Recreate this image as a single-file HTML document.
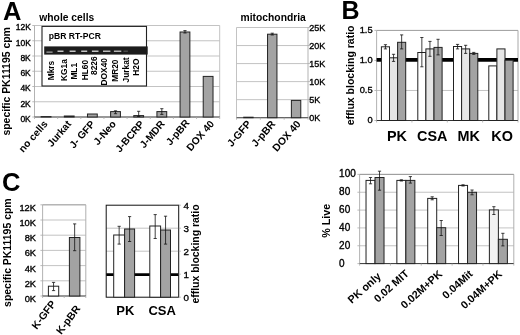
<!DOCTYPE html>
<html><head><meta charset="utf-8"><style>
html,body{margin:0;padding:0;background:#fff;width:520px;height:335px;overflow:hidden}
svg{display:block;font-family:"Liberation Sans", sans-serif;filter:blur(0.35px)}
</style></head><body>
<svg width="520" height="335" viewBox="0 0 520 335" shape-rendering="auto">
<rect x="0" y="0" width="520" height="335" fill="#fff"/>
<text x="2.90" y="19.70" font-size="25.5" font-weight="bold" text-anchor="start" fill="#000">A</text>
<text x="39.30" y="21.30" font-size="10.3" font-weight="bold" text-anchor="start" fill="#000">whole cells</text>
<text x="9.90" y="135.60" font-size="10.45" font-weight="bold" text-anchor="start" fill="#000" transform="rotate(-90 9.90 135.60)">specific PK11195 cpm</text>
<line x1="34.50" y1="25.50" x2="219.70" y2="25.50" stroke="#bcbcbc" stroke-width="0.9"/>
<line x1="34.50" y1="40.75" x2="219.70" y2="40.75" stroke="#bcbcbc" stroke-width="0.9"/>
<line x1="34.50" y1="56.00" x2="219.70" y2="56.00" stroke="#bcbcbc" stroke-width="0.9"/>
<line x1="34.50" y1="71.25" x2="219.70" y2="71.25" stroke="#bcbcbc" stroke-width="0.9"/>
<line x1="34.50" y1="86.50" x2="219.70" y2="86.50" stroke="#bcbcbc" stroke-width="0.9"/>
<line x1="34.50" y1="101.75" x2="219.70" y2="101.75" stroke="#bcbcbc" stroke-width="0.9"/>
<line x1="34.50" y1="25.50" x2="34.50" y2="117.00" stroke="#aaa" stroke-width="0.9"/>
<line x1="219.70" y1="25.50" x2="219.70" y2="117.00" stroke="#bcbcbc" stroke-width="0.9"/>
<line x1="32.30" y1="25.50" x2="34.50" y2="25.50" stroke="#aaa" stroke-width="0.8"/>
<line x1="32.30" y1="40.75" x2="34.50" y2="40.75" stroke="#aaa" stroke-width="0.8"/>
<line x1="32.30" y1="56.00" x2="34.50" y2="56.00" stroke="#aaa" stroke-width="0.8"/>
<line x1="32.30" y1="71.25" x2="34.50" y2="71.25" stroke="#aaa" stroke-width="0.8"/>
<line x1="32.30" y1="86.50" x2="34.50" y2="86.50" stroke="#aaa" stroke-width="0.8"/>
<line x1="32.30" y1="101.75" x2="34.50" y2="101.75" stroke="#aaa" stroke-width="0.8"/>
<line x1="32.30" y1="117.00" x2="34.50" y2="117.00" stroke="#aaa" stroke-width="0.8"/>
<text x="30.80" y="30.40" font-size="8.5" font-weight="normal" text-anchor="end" fill="#000" stroke="#000" stroke-width="0.35">12K</text>
<text x="30.80" y="45.65" font-size="8.5" font-weight="normal" text-anchor="end" fill="#000" stroke="#000" stroke-width="0.35">10K</text>
<text x="30.80" y="60.90" font-size="8.5" font-weight="normal" text-anchor="end" fill="#000" stroke="#000" stroke-width="0.35">8K</text>
<text x="30.80" y="76.15" font-size="8.5" font-weight="normal" text-anchor="end" fill="#000" stroke="#000" stroke-width="0.35">6K</text>
<text x="30.80" y="91.40" font-size="8.5" font-weight="normal" text-anchor="end" fill="#000" stroke="#000" stroke-width="0.35">4K</text>
<text x="30.80" y="106.65" font-size="8.5" font-weight="normal" text-anchor="end" fill="#000" stroke="#000" stroke-width="0.35">2K</text>
<text x="30.80" y="121.90" font-size="8.5" font-weight="normal" text-anchor="end" fill="#000" stroke="#000" stroke-width="0.35">0K</text>
<line x1="34.50" y1="117.00" x2="219.70" y2="117.00" stroke="#333" stroke-width="1.1"/>
<rect x="41.18" y="116.60" width="9.80" height="0.40" fill="#a3a3a3" stroke="#222" stroke-width="1.0"/>
<rect x="64.32" y="116.00" width="9.80" height="1.00" fill="#a3a3a3" stroke="#222" stroke-width="1.0"/>
<rect x="87.47" y="114.00" width="9.80" height="3.00" fill="#a3a3a3" stroke="#222" stroke-width="1.0"/>
<rect x="110.62" y="111.60" width="9.80" height="5.40" fill="#a3a3a3" stroke="#222" stroke-width="1.0"/>
<line x1="115.52" y1="110.80" x2="115.52" y2="113.70" stroke="#111" stroke-width="0.8"/>
<line x1="113.92" y1="110.80" x2="117.12" y2="110.80" stroke="#111" stroke-width="0.8"/>
<line x1="113.92" y1="113.70" x2="117.12" y2="113.70" stroke="#111" stroke-width="0.8"/>
<rect x="133.78" y="115.60" width="9.80" height="1.40" fill="#a3a3a3" stroke="#222" stroke-width="1.0"/>
<line x1="138.68" y1="111.30" x2="138.68" y2="116.50" stroke="#111" stroke-width="0.8"/>
<line x1="137.08" y1="111.30" x2="140.28" y2="111.30" stroke="#111" stroke-width="0.8"/>
<line x1="137.08" y1="116.50" x2="140.28" y2="116.50" stroke="#111" stroke-width="0.8"/>
<rect x="156.92" y="111.60" width="9.80" height="5.40" fill="#a3a3a3" stroke="#222" stroke-width="1.0"/>
<line x1="161.82" y1="108.70" x2="161.82" y2="114.40" stroke="#111" stroke-width="0.8"/>
<line x1="160.22" y1="108.70" x2="163.42" y2="108.70" stroke="#111" stroke-width="0.8"/>
<line x1="160.22" y1="114.40" x2="163.42" y2="114.40" stroke="#111" stroke-width="0.8"/>
<rect x="180.07" y="32.00" width="9.80" height="85.00" fill="#a3a3a3" stroke="#222" stroke-width="1.0"/>
<line x1="184.97" y1="30.60" x2="184.97" y2="33.00" stroke="#111" stroke-width="0.8"/>
<line x1="183.38" y1="30.60" x2="186.57" y2="30.60" stroke="#111" stroke-width="0.8"/>
<line x1="183.38" y1="33.00" x2="186.57" y2="33.00" stroke="#111" stroke-width="0.8"/>
<rect x="203.22" y="76.40" width="9.80" height="40.60" fill="#a3a3a3" stroke="#222" stroke-width="1.0"/>
<line x1="34.50" y1="117.00" x2="34.50" y2="119.00" stroke="#aaa" stroke-width="0.8"/>
<line x1="57.65" y1="117.00" x2="57.65" y2="119.00" stroke="#aaa" stroke-width="0.8"/>
<line x1="80.80" y1="117.00" x2="80.80" y2="119.00" stroke="#aaa" stroke-width="0.8"/>
<line x1="103.95" y1="117.00" x2="103.95" y2="119.00" stroke="#aaa" stroke-width="0.8"/>
<line x1="127.10" y1="117.00" x2="127.10" y2="119.00" stroke="#aaa" stroke-width="0.8"/>
<line x1="150.25" y1="117.00" x2="150.25" y2="119.00" stroke="#aaa" stroke-width="0.8"/>
<line x1="173.40" y1="117.00" x2="173.40" y2="119.00" stroke="#aaa" stroke-width="0.8"/>
<line x1="196.55" y1="117.00" x2="196.55" y2="119.00" stroke="#aaa" stroke-width="0.8"/>
<line x1="219.70" y1="117.00" x2="219.70" y2="119.00" stroke="#aaa" stroke-width="0.8"/>
<text x="48.18" y="124.30" font-size="10.2" font-weight="bold" text-anchor="end" fill="#000" transform="rotate(-49 48.18 124.30)">no cells</text>
<text x="71.82" y="124.30" font-size="10.2" font-weight="bold" text-anchor="end" fill="#000" transform="rotate(-49 71.82 124.30)">Jurkat</text>
<text x="95.47" y="124.30" font-size="10.2" font-weight="bold" text-anchor="end" fill="#000" transform="rotate(-49 95.47 124.30)">J- GFP</text>
<text x="116.62" y="124.30" font-size="10.2" font-weight="bold" text-anchor="end" fill="#000" transform="rotate(-49 116.62 124.30)">J-Neo</text>
<text x="144.78" y="124.30" font-size="10.2" font-weight="bold" text-anchor="end" fill="#000" transform="rotate(-49 144.78 124.30)">J-BCRP</text>
<text x="165.42" y="124.30" font-size="10.2" font-weight="bold" text-anchor="end" fill="#000" transform="rotate(-49 165.42 124.30)">J-MDR</text>
<text x="190.07" y="123.30" font-size="10.2" font-weight="bold" text-anchor="end" fill="#000" transform="rotate(-49 190.07 123.30)">J-pBR</text>
<text x="214.72" y="124.30" font-size="10.2" font-weight="bold" text-anchor="end" fill="#000" transform="rotate(-49 214.72 124.30)">DOX 40</text>
<rect x="42.00" y="26.40" width="104.50" height="59.60" fill="#fff" stroke="#222" stroke-width="1.1"/>
<text x="48.80" y="38.80" font-size="8.6" font-weight="bold" text-anchor="start" fill="#000">pBR RT-PCR</text>
<rect x="44.20" y="46.40" width="103.50" height="8.20" fill="#1c1c1c" stroke="none" stroke-width="1"/>
<rect x="46.40" y="51.40" width="6.20" height="1.50" fill="#8c8c8c" stroke="none" stroke-width="1"/>
<rect x="57.50" y="50.50" width="6.00" height="1.50" fill="#c4c4c4" stroke="none" stroke-width="1"/>
<rect x="69.60" y="50.50" width="6.00" height="1.50" fill="#c4c4c4" stroke="none" stroke-width="1"/>
<rect x="81.20" y="50.50" width="6.00" height="1.50" fill="#c4c4c4" stroke="none" stroke-width="1"/>
<rect x="91.90" y="50.50" width="6.60" height="1.50" fill="#c4c4c4" stroke="none" stroke-width="1"/>
<rect x="103.00" y="50.50" width="7.40" height="1.50" fill="#bcbcbc" stroke="none" stroke-width="1"/>
<rect x="113.90" y="50.50" width="7.40" height="1.50" fill="#b4b4b4" stroke="none" stroke-width="1"/>
<rect x="123.50" y="50.50" width="4.40" height="1.50" fill="#4a4a4a" stroke="none" stroke-width="1"/>
<text x="54.20" y="80.30" font-size="8.4" font-weight="bold" text-anchor="start" fill="#000" transform="rotate(-90 54.20 80.30)">Mkrs</text>
<text x="66.60" y="81.00" font-size="8.4" font-weight="bold" text-anchor="start" fill="#000" transform="rotate(-90 66.60 81.00)">KG1a</text>
<text x="77.20" y="79.60" font-size="8.4" font-weight="bold" text-anchor="start" fill="#000" transform="rotate(-90 77.20 79.60)">ML1</text>
<text x="87.60" y="80.30" font-size="8.4" font-weight="bold" text-anchor="start" fill="#000" transform="rotate(-90 87.60 80.30)">HL60</text>
<text x="96.50" y="75.00" font-size="8.4" font-weight="bold" text-anchor="start" fill="#000" transform="rotate(-90 96.50 75.00)">8226</text>
<text x="107.00" y="85.50" font-size="8.4" font-weight="bold" text-anchor="start" fill="#000" transform="rotate(-90 107.00 85.50)">DOX40</text>
<text x="118.20" y="81.80" font-size="8.4" font-weight="bold" text-anchor="start" fill="#000" transform="rotate(-90 118.20 81.80)">MR20</text>
<text x="128.60" y="82.50" font-size="8.4" font-weight="bold" text-anchor="start" fill="#000" transform="rotate(-90 128.60 82.50)">Jurkat</text>
<text x="139.10" y="75.80" font-size="8.4" font-weight="bold" text-anchor="start" fill="#000" transform="rotate(-90 139.10 75.80)">H2O</text>
<text x="240.60" y="21.00" font-size="10.3" font-weight="bold" text-anchor="start" fill="#000">mitochondria</text>
<line x1="236.50" y1="27.50" x2="308.00" y2="27.50" stroke="#bcbcbc" stroke-width="0.9"/>
<line x1="236.50" y1="45.54" x2="308.00" y2="45.54" stroke="#bcbcbc" stroke-width="0.9"/>
<line x1="236.50" y1="63.58" x2="308.00" y2="63.58" stroke="#bcbcbc" stroke-width="0.9"/>
<line x1="236.50" y1="81.62" x2="308.00" y2="81.62" stroke="#bcbcbc" stroke-width="0.9"/>
<line x1="236.50" y1="99.66" x2="308.00" y2="99.66" stroke="#bcbcbc" stroke-width="0.9"/>
<line x1="236.50" y1="27.50" x2="236.50" y2="117.70" stroke="#bcbcbc" stroke-width="0.9"/>
<line x1="308.00" y1="27.50" x2="308.00" y2="117.70" stroke="#aaa" stroke-width="0.9"/>
<line x1="308.00" y1="27.50" x2="310.20" y2="27.50" stroke="#aaa" stroke-width="0.8"/>
<line x1="308.00" y1="45.54" x2="310.20" y2="45.54" stroke="#aaa" stroke-width="0.8"/>
<line x1="308.00" y1="63.58" x2="310.20" y2="63.58" stroke="#aaa" stroke-width="0.8"/>
<line x1="308.00" y1="81.62" x2="310.20" y2="81.62" stroke="#aaa" stroke-width="0.8"/>
<line x1="308.00" y1="99.66" x2="310.20" y2="99.66" stroke="#aaa" stroke-width="0.8"/>
<line x1="308.00" y1="117.70" x2="310.20" y2="117.70" stroke="#aaa" stroke-width="0.8"/>
<text x="309.20" y="30.80" font-size="9.0" font-weight="normal" text-anchor="start" fill="#000" stroke="#000" stroke-width="0.35">25K</text>
<text x="309.20" y="48.84" font-size="9.0" font-weight="normal" text-anchor="start" fill="#000" stroke="#000" stroke-width="0.35">20K</text>
<text x="309.20" y="66.88" font-size="9.0" font-weight="normal" text-anchor="start" fill="#000" stroke="#000" stroke-width="0.35">15K</text>
<text x="309.20" y="84.92" font-size="9.0" font-weight="normal" text-anchor="start" fill="#000" stroke="#000" stroke-width="0.35">10K</text>
<text x="309.20" y="102.96" font-size="9.0" font-weight="normal" text-anchor="start" fill="#000" stroke="#000" stroke-width="0.35">5K</text>
<text x="309.20" y="121.00" font-size="9.0" font-weight="normal" text-anchor="start" fill="#000" stroke="#000" stroke-width="0.35">0K</text>
<line x1="236.50" y1="117.70" x2="308.00" y2="117.70" stroke="#333" stroke-width="1.1"/>
<rect x="243.72" y="117.20" width="9.40" height="0.50" fill="#a3a3a3" stroke="#222" stroke-width="1.0"/>
<rect x="267.55" y="34.20" width="9.40" height="83.50" fill="#a3a3a3" stroke="#222" stroke-width="1.0"/>
<line x1="272.25" y1="33.20" x2="272.25" y2="35.00" stroke="#111" stroke-width="0.8"/>
<line x1="270.65" y1="33.20" x2="273.85" y2="33.20" stroke="#111" stroke-width="0.8"/>
<line x1="270.65" y1="35.00" x2="273.85" y2="35.00" stroke="#111" stroke-width="0.8"/>
<rect x="291.38" y="100.40" width="9.40" height="17.30" fill="#a3a3a3" stroke="#222" stroke-width="1.0"/>
<line x1="236.50" y1="117.70" x2="236.50" y2="119.70" stroke="#aaa" stroke-width="0.8"/>
<line x1="260.33" y1="117.70" x2="260.33" y2="119.70" stroke="#aaa" stroke-width="0.8"/>
<line x1="284.17" y1="117.70" x2="284.17" y2="119.70" stroke="#aaa" stroke-width="0.8"/>
<line x1="308.00" y1="117.70" x2="308.00" y2="119.70" stroke="#aaa" stroke-width="0.8"/>
<text x="251.72" y="124.30" font-size="10.4" font-weight="bold" text-anchor="end" fill="#000" transform="rotate(-49 251.72 124.30)">J-GFP</text>
<text x="276.05" y="124.30" font-size="10.4" font-weight="bold" text-anchor="end" fill="#000" transform="rotate(-49 276.05 124.30)">J-pBR</text>
<text x="301.38" y="124.30" font-size="10.4" font-weight="bold" text-anchor="end" fill="#000" transform="rotate(-49 301.38 124.30)">DOX 40</text>
<text x="341.40" y="18.50" font-size="25" font-weight="bold" text-anchor="start" fill="#000">B</text>
<text x="354.00" y="125.30" font-size="10.5" font-weight="bold" text-anchor="start" fill="#000" transform="rotate(-90 354.00 125.30)">efflux blocking ratio</text>
<line x1="376.60" y1="90.47" x2="518.00" y2="90.47" stroke="#bcbcbc" stroke-width="0.9"/>
<line x1="376.60" y1="30.40" x2="518.00" y2="30.40" stroke="#9c9c9c" stroke-width="1.0"/>
<line x1="518.00" y1="30.40" x2="518.00" y2="120.50" stroke="#a8a8a8" stroke-width="1.0"/>
<line x1="376.60" y1="30.40" x2="376.60" y2="120.50" stroke="#aaa" stroke-width="0.9"/>
<line x1="374.40" y1="30.40" x2="376.60" y2="30.40" stroke="#aaa" stroke-width="0.8"/>
<text x="372.60" y="33.00" font-size="9.3" font-weight="normal" text-anchor="end" fill="#000" stroke="#000" stroke-width="0.35">1.5</text>
<line x1="374.40" y1="60.43" x2="376.60" y2="60.43" stroke="#aaa" stroke-width="0.8"/>
<text x="372.60" y="63.03" font-size="9.3" font-weight="normal" text-anchor="end" fill="#000" stroke="#000" stroke-width="0.35">1.0</text>
<line x1="374.40" y1="90.47" x2="376.60" y2="90.47" stroke="#aaa" stroke-width="0.8"/>
<text x="372.60" y="93.07" font-size="9.3" font-weight="normal" text-anchor="end" fill="#000" stroke="#000" stroke-width="0.35">0.5</text>
<line x1="374.40" y1="120.50" x2="376.60" y2="120.50" stroke="#aaa" stroke-width="0.8"/>
<text x="372.60" y="123.10" font-size="9.3" font-weight="normal" text-anchor="end" fill="#000" stroke="#000" stroke-width="0.35">0</text>
<line x1="376.60" y1="59.90" x2="518.00" y2="59.90" stroke="#000" stroke-width="3.8"/>
<line x1="376.60" y1="120.50" x2="518.00" y2="120.50" stroke="#333" stroke-width="1.0"/>
<rect x="381.40" y="46.80" width="8.10" height="73.70" fill="#fff" stroke="#222" stroke-width="1.0"/>
<line x1="385.45" y1="44.70" x2="385.45" y2="48.90" stroke="#111" stroke-width="0.8"/>
<line x1="383.85" y1="44.70" x2="387.05" y2="44.70" stroke="#111" stroke-width="0.8"/>
<line x1="383.85" y1="48.90" x2="387.05" y2="48.90" stroke="#111" stroke-width="0.8"/>
<rect x="389.50" y="57.80" width="8.10" height="62.70" fill="#e6e6e6" stroke="#222" stroke-width="1.0"/>
<line x1="393.55" y1="54.30" x2="393.55" y2="61.40" stroke="#111" stroke-width="0.8"/>
<line x1="391.95" y1="54.30" x2="395.15" y2="54.30" stroke="#111" stroke-width="0.8"/>
<line x1="391.95" y1="61.40" x2="395.15" y2="61.40" stroke="#111" stroke-width="0.8"/>
<rect x="397.60" y="42.30" width="8.10" height="78.20" fill="#a3a3a3" stroke="#222" stroke-width="1.0"/>
<line x1="401.65" y1="34.90" x2="401.65" y2="48.90" stroke="#111" stroke-width="0.8"/>
<line x1="400.05" y1="34.90" x2="403.25" y2="34.90" stroke="#111" stroke-width="0.8"/>
<line x1="400.05" y1="48.90" x2="403.25" y2="48.90" stroke="#111" stroke-width="0.8"/>
<rect x="417.80" y="52.50" width="8.10" height="68.00" fill="#fff" stroke="#222" stroke-width="1.0"/>
<line x1="421.85" y1="37.50" x2="421.85" y2="66.80" stroke="#111" stroke-width="0.8"/>
<line x1="420.25" y1="37.50" x2="423.45" y2="37.50" stroke="#111" stroke-width="0.8"/>
<line x1="420.25" y1="66.80" x2="423.45" y2="66.80" stroke="#111" stroke-width="0.8"/>
<rect x="425.90" y="48.90" width="8.10" height="71.60" fill="#e6e6e6" stroke="#222" stroke-width="1.0"/>
<line x1="429.95" y1="41.40" x2="429.95" y2="56.30" stroke="#111" stroke-width="0.8"/>
<line x1="428.35" y1="41.40" x2="431.55" y2="41.40" stroke="#111" stroke-width="0.8"/>
<line x1="428.35" y1="56.30" x2="431.55" y2="56.30" stroke="#111" stroke-width="0.8"/>
<rect x="434.00" y="47.40" width="8.10" height="73.10" fill="#a3a3a3" stroke="#222" stroke-width="1.0"/>
<line x1="438.05" y1="39.30" x2="438.05" y2="54.90" stroke="#111" stroke-width="0.8"/>
<line x1="436.45" y1="39.30" x2="439.65" y2="39.30" stroke="#111" stroke-width="0.8"/>
<line x1="436.45" y1="54.90" x2="439.65" y2="54.90" stroke="#111" stroke-width="0.8"/>
<rect x="453.50" y="46.50" width="8.10" height="74.00" fill="#fff" stroke="#222" stroke-width="1.0"/>
<line x1="457.55" y1="44.40" x2="457.55" y2="48.90" stroke="#111" stroke-width="0.8"/>
<line x1="455.95" y1="44.40" x2="459.15" y2="44.40" stroke="#111" stroke-width="0.8"/>
<line x1="455.95" y1="48.90" x2="459.15" y2="48.90" stroke="#111" stroke-width="0.8"/>
<rect x="461.60" y="48.90" width="8.10" height="71.60" fill="#e6e6e6" stroke="#222" stroke-width="1.0"/>
<line x1="465.65" y1="45.30" x2="465.65" y2="53.40" stroke="#111" stroke-width="0.8"/>
<line x1="464.05" y1="45.30" x2="467.25" y2="45.30" stroke="#111" stroke-width="0.8"/>
<line x1="464.05" y1="53.40" x2="467.25" y2="53.40" stroke="#111" stroke-width="0.8"/>
<rect x="469.70" y="53.40" width="8.10" height="67.10" fill="#a3a3a3" stroke="#222" stroke-width="1.0"/>
<line x1="473.75" y1="52.40" x2="473.75" y2="54.40" stroke="#111" stroke-width="0.8"/>
<line x1="472.15" y1="52.40" x2="475.35" y2="52.40" stroke="#111" stroke-width="0.8"/>
<line x1="472.15" y1="54.40" x2="475.35" y2="54.40" stroke="#111" stroke-width="0.8"/>
<rect x="488.80" y="65.90" width="8.10" height="54.60" fill="#fff" stroke="#222" stroke-width="1.0"/>
<rect x="496.90" y="48.90" width="8.10" height="71.60" fill="#e6e6e6" stroke="#222" stroke-width="1.0"/>
<rect x="505.00" y="60.20" width="8.10" height="60.30" fill="#a3a3a3" stroke="#222" stroke-width="1.0"/>
<line x1="376.60" y1="120.50" x2="376.60" y2="122.50" stroke="#aaa" stroke-width="0.8"/>
<line x1="411.95" y1="120.50" x2="411.95" y2="122.50" stroke="#aaa" stroke-width="0.8"/>
<line x1="447.30" y1="120.50" x2="447.30" y2="122.50" stroke="#aaa" stroke-width="0.8"/>
<line x1="482.65" y1="120.50" x2="482.65" y2="122.50" stroke="#aaa" stroke-width="0.8"/>
<line x1="518.00" y1="120.50" x2="518.00" y2="122.50" stroke="#aaa" stroke-width="0.8"/>
<text x="397.00" y="140.80" font-size="14.4" font-weight="bold" text-anchor="middle" fill="#000">PK</text>
<text x="432.30" y="140.80" font-size="14.4" font-weight="bold" text-anchor="middle" fill="#000">CSA</text>
<text x="468.80" y="140.80" font-size="14.4" font-weight="bold" text-anchor="middle" fill="#000">MK</text>
<text x="502.10" y="140.80" font-size="14.4" font-weight="bold" text-anchor="middle" fill="#000">KO</text>
<text x="2.10" y="190.60" font-size="25.5" font-weight="bold" text-anchor="start" fill="#000">C</text>
<text x="10.60" y="306.90" font-size="10.45" font-weight="bold" text-anchor="start" fill="#000" transform="rotate(-90 10.60 306.90)">specific PK11195 cpm</text>
<line x1="42.60" y1="204.80" x2="85.80" y2="204.80" stroke="#bcbcbc" stroke-width="0.9"/>
<line x1="42.60" y1="220.00" x2="85.80" y2="220.00" stroke="#bcbcbc" stroke-width="0.9"/>
<line x1="42.60" y1="235.20" x2="85.80" y2="235.20" stroke="#bcbcbc" stroke-width="0.9"/>
<line x1="42.60" y1="250.40" x2="85.80" y2="250.40" stroke="#bcbcbc" stroke-width="0.9"/>
<line x1="42.60" y1="265.60" x2="85.80" y2="265.60" stroke="#bcbcbc" stroke-width="0.9"/>
<line x1="42.60" y1="280.80" x2="85.80" y2="280.80" stroke="#bcbcbc" stroke-width="0.9"/>
<line x1="42.60" y1="204.80" x2="42.60" y2="296.00" stroke="#aaa" stroke-width="0.9"/>
<line x1="85.80" y1="204.80" x2="85.80" y2="296.00" stroke="#b0b0b0" stroke-width="1.0"/>
<line x1="42.60" y1="204.80" x2="85.80" y2="204.80" stroke="#a8a8a8" stroke-width="1.0"/>
<line x1="40.40" y1="204.80" x2="42.60" y2="204.80" stroke="#aaa" stroke-width="0.8"/>
<text x="36.00" y="210.80" font-size="9.3" font-weight="normal" text-anchor="end" fill="#000" stroke="#000" stroke-width="0.35">12K</text>
<line x1="40.40" y1="220.00" x2="42.60" y2="220.00" stroke="#aaa" stroke-width="0.8"/>
<text x="36.00" y="226.00" font-size="9.3" font-weight="normal" text-anchor="end" fill="#000" stroke="#000" stroke-width="0.35">10K</text>
<line x1="40.40" y1="235.20" x2="42.60" y2="235.20" stroke="#aaa" stroke-width="0.8"/>
<text x="36.00" y="241.20" font-size="9.3" font-weight="normal" text-anchor="end" fill="#000" stroke="#000" stroke-width="0.35">8K</text>
<line x1="40.40" y1="250.40" x2="42.60" y2="250.40" stroke="#aaa" stroke-width="0.8"/>
<text x="36.00" y="256.40" font-size="9.3" font-weight="normal" text-anchor="end" fill="#000" stroke="#000" stroke-width="0.35">6K</text>
<line x1="40.40" y1="265.60" x2="42.60" y2="265.60" stroke="#aaa" stroke-width="0.8"/>
<text x="36.00" y="271.60" font-size="9.3" font-weight="normal" text-anchor="end" fill="#000" stroke="#000" stroke-width="0.35">4K</text>
<line x1="40.40" y1="280.80" x2="42.60" y2="280.80" stroke="#aaa" stroke-width="0.8"/>
<text x="36.00" y="286.80" font-size="9.3" font-weight="normal" text-anchor="end" fill="#000" stroke="#000" stroke-width="0.35">2K</text>
<line x1="40.40" y1="296.00" x2="42.60" y2="296.00" stroke="#aaa" stroke-width="0.8"/>
<text x="36.00" y="302.00" font-size="9.3" font-weight="normal" text-anchor="end" fill="#000" stroke="#000" stroke-width="0.35">0K</text>
<line x1="42.60" y1="296.00" x2="85.80" y2="296.00" stroke="#333" stroke-width="1.1"/>
<rect x="48.40" y="286.20" width="10.30" height="9.80" fill="#fff" stroke="#222" stroke-width="1.0"/>
<line x1="53.55" y1="282.40" x2="53.55" y2="290.60" stroke="#111" stroke-width="0.8"/>
<line x1="51.95" y1="282.40" x2="55.15" y2="282.40" stroke="#111" stroke-width="0.8"/>
<line x1="51.95" y1="290.60" x2="55.15" y2="290.60" stroke="#111" stroke-width="0.8"/>
<rect x="69.40" y="237.50" width="10.50" height="58.50" fill="#a3a3a3" stroke="#222" stroke-width="1.0"/>
<line x1="74.65" y1="223.90" x2="74.65" y2="250.70" stroke="#111" stroke-width="0.8"/>
<line x1="73.05" y1="223.90" x2="76.25" y2="223.90" stroke="#111" stroke-width="0.8"/>
<line x1="73.05" y1="250.70" x2="76.25" y2="250.70" stroke="#111" stroke-width="0.8"/>
<line x1="42.60" y1="296.00" x2="42.60" y2="298.00" stroke="#aaa" stroke-width="0.8"/>
<line x1="64.20" y1="296.00" x2="64.20" y2="298.00" stroke="#aaa" stroke-width="0.8"/>
<line x1="85.80" y1="296.00" x2="85.80" y2="298.00" stroke="#aaa" stroke-width="0.8"/>
<text x="56.40" y="303.80" font-size="10.5" font-weight="bold" text-anchor="end" fill="#000" transform="rotate(-53 56.40 303.80)">K-GFP</text>
<text x="80.80" y="308.80" font-size="10.5" font-weight="bold" text-anchor="end" fill="#000" transform="rotate(-53 80.80 308.80)">K-pBR</text>
<line x1="106.20" y1="228.20" x2="178.70" y2="228.20" stroke="#bcbcbc" stroke-width="0.9"/>
<line x1="106.20" y1="251.20" x2="178.70" y2="251.20" stroke="#bcbcbc" stroke-width="0.9"/>
<line x1="106.20" y1="274.60" x2="178.70" y2="274.60" stroke="#000" stroke-width="2.8"/>
<rect x="106.20" y="205.20" width="72.50" height="92.00" fill="none" stroke="#111" stroke-width="1.0"/>
<rect x="113.70" y="235.00" width="10.90" height="62.20" fill="#fff" stroke="#222" stroke-width="1.0"/>
<line x1="119.15" y1="226.30" x2="119.15" y2="244.10" stroke="#111" stroke-width="0.8"/>
<line x1="117.55" y1="226.30" x2="120.75" y2="226.30" stroke="#111" stroke-width="0.8"/>
<line x1="117.55" y1="244.10" x2="120.75" y2="244.10" stroke="#111" stroke-width="0.8"/>
<rect x="124.60" y="229.00" width="10.00" height="68.20" fill="#a3a3a3" stroke="#222" stroke-width="1.0"/>
<line x1="129.60" y1="216.60" x2="129.60" y2="241.50" stroke="#111" stroke-width="0.8"/>
<line x1="128.00" y1="216.60" x2="131.20" y2="216.60" stroke="#111" stroke-width="0.8"/>
<line x1="128.00" y1="241.50" x2="131.20" y2="241.50" stroke="#111" stroke-width="0.8"/>
<rect x="149.80" y="226.00" width="10.80" height="71.20" fill="#fff" stroke="#222" stroke-width="1.0"/>
<line x1="155.20" y1="214.60" x2="155.20" y2="238.50" stroke="#111" stroke-width="0.8"/>
<line x1="153.60" y1="214.60" x2="156.80" y2="214.60" stroke="#111" stroke-width="0.8"/>
<line x1="153.60" y1="238.50" x2="156.80" y2="238.50" stroke="#111" stroke-width="0.8"/>
<rect x="160.60" y="230.00" width="9.90" height="67.20" fill="#a3a3a3" stroke="#222" stroke-width="1.0"/>
<line x1="165.55" y1="216.20" x2="165.55" y2="244.10" stroke="#111" stroke-width="0.8"/>
<line x1="163.95" y1="216.20" x2="167.15" y2="216.20" stroke="#111" stroke-width="0.8"/>
<line x1="163.95" y1="244.10" x2="167.15" y2="244.10" stroke="#111" stroke-width="0.8"/>
<line x1="178.70" y1="297.20" x2="180.90" y2="297.20" stroke="#aaa" stroke-width="0.8"/>
<text x="183.40" y="300.60" font-size="9.8" font-weight="normal" text-anchor="start" fill="#000" stroke="#000" stroke-width="0.35">0</text>
<line x1="178.70" y1="274.20" x2="180.90" y2="274.20" stroke="#aaa" stroke-width="0.8"/>
<text x="183.40" y="277.60" font-size="9.8" font-weight="normal" text-anchor="start" fill="#000" stroke="#000" stroke-width="0.35">1</text>
<line x1="178.70" y1="251.20" x2="180.90" y2="251.20" stroke="#aaa" stroke-width="0.8"/>
<text x="183.40" y="254.60" font-size="9.8" font-weight="normal" text-anchor="start" fill="#000" stroke="#000" stroke-width="0.35">2</text>
<line x1="178.70" y1="228.20" x2="180.90" y2="228.20" stroke="#aaa" stroke-width="0.8"/>
<text x="183.40" y="231.60" font-size="9.8" font-weight="normal" text-anchor="start" fill="#000" stroke="#000" stroke-width="0.35">3</text>
<line x1="178.70" y1="205.20" x2="180.90" y2="205.20" stroke="#aaa" stroke-width="0.8"/>
<text x="183.40" y="208.60" font-size="9.8" font-weight="normal" text-anchor="start" fill="#000" stroke="#000" stroke-width="0.35">4</text>
<text x="199.40" y="303.60" font-size="10.45" font-weight="bold" text-anchor="start" fill="#000" transform="rotate(-90 199.40 303.60)">efflux blocking ratio</text>
<text x="125.40" y="315.00" font-size="13" font-weight="bold" text-anchor="middle" fill="#000">PK</text>
<text x="162.20" y="315.00" font-size="13" font-weight="bold" text-anchor="middle" fill="#000">CSA</text>
<text x="330.00" y="237.70" font-size="10.7" font-weight="bold" text-anchor="start" fill="#000" transform="rotate(-90 330.00 237.70)">% Live</text>
<line x1="359.60" y1="174.40" x2="513.80" y2="174.40" stroke="#bcbcbc" stroke-width="0.9"/>
<line x1="359.60" y1="192.24" x2="513.80" y2="192.24" stroke="#bcbcbc" stroke-width="0.9"/>
<line x1="359.60" y1="210.08" x2="513.80" y2="210.08" stroke="#bcbcbc" stroke-width="0.9"/>
<line x1="359.60" y1="227.92" x2="513.80" y2="227.92" stroke="#bcbcbc" stroke-width="0.9"/>
<line x1="359.60" y1="245.76" x2="513.80" y2="245.76" stroke="#bcbcbc" stroke-width="0.9"/>
<line x1="359.60" y1="174.40" x2="359.60" y2="263.60" stroke="#aaa" stroke-width="0.9"/>
<line x1="513.80" y1="174.40" x2="513.80" y2="263.60" stroke="#b0b0b0" stroke-width="1.0"/>
<line x1="359.60" y1="174.40" x2="513.80" y2="174.40" stroke="#9a9a9a" stroke-width="1.0"/>
<line x1="357.40" y1="174.40" x2="359.60" y2="174.40" stroke="#aaa" stroke-width="0.8"/>
<text x="339.10" y="177.30" font-size="10.0" font-weight="normal" text-anchor="start" fill="#000" stroke="#000" stroke-width="0.35">100</text>
<line x1="357.40" y1="192.24" x2="359.60" y2="192.24" stroke="#aaa" stroke-width="0.8"/>
<text x="339.10" y="195.14" font-size="10.0" font-weight="normal" text-anchor="start" fill="#000" stroke="#000" stroke-width="0.35">80</text>
<line x1="357.40" y1="210.08" x2="359.60" y2="210.08" stroke="#aaa" stroke-width="0.8"/>
<text x="339.10" y="212.98" font-size="10.0" font-weight="normal" text-anchor="start" fill="#000" stroke="#000" stroke-width="0.35">60</text>
<line x1="357.40" y1="227.92" x2="359.60" y2="227.92" stroke="#aaa" stroke-width="0.8"/>
<text x="339.10" y="230.82" font-size="10.0" font-weight="normal" text-anchor="start" fill="#000" stroke="#000" stroke-width="0.35">40</text>
<line x1="357.40" y1="245.76" x2="359.60" y2="245.76" stroke="#aaa" stroke-width="0.8"/>
<text x="339.10" y="248.66" font-size="10.0" font-weight="normal" text-anchor="start" fill="#000" stroke="#000" stroke-width="0.35">20</text>
<line x1="357.40" y1="263.60" x2="359.60" y2="263.60" stroke="#aaa" stroke-width="0.8"/>
<text x="339.10" y="266.50" font-size="10.0" font-weight="normal" text-anchor="start" fill="#000" stroke="#000" stroke-width="0.35">0</text>
<line x1="359.60" y1="263.60" x2="513.80" y2="263.60" stroke="#333" stroke-width="1.0"/>
<rect x="366.02" y="180.40" width="9.00" height="83.20" fill="#fff" stroke="#222" stroke-width="1.0"/>
<line x1="370.52" y1="177.50" x2="370.52" y2="183.80" stroke="#111" stroke-width="0.8"/>
<line x1="368.92" y1="177.50" x2="372.12" y2="177.50" stroke="#111" stroke-width="0.8"/>
<line x1="368.92" y1="183.80" x2="372.12" y2="183.80" stroke="#111" stroke-width="0.8"/>
<rect x="375.02" y="177.50" width="9.00" height="86.10" fill="#a3a3a3" stroke="#222" stroke-width="1.0"/>
<line x1="379.52" y1="171.20" x2="379.52" y2="190.20" stroke="#111" stroke-width="0.8"/>
<line x1="377.92" y1="171.20" x2="381.12" y2="171.20" stroke="#111" stroke-width="0.8"/>
<line x1="377.92" y1="190.20" x2="381.12" y2="190.20" stroke="#111" stroke-width="0.8"/>
<rect x="396.86" y="180.40" width="9.00" height="83.20" fill="#fff" stroke="#222" stroke-width="1.0"/>
<line x1="401.36" y1="179.80" x2="401.36" y2="181.00" stroke="#111" stroke-width="0.8"/>
<line x1="399.76" y1="179.80" x2="402.96" y2="179.80" stroke="#111" stroke-width="0.8"/>
<line x1="399.76" y1="181.00" x2="402.96" y2="181.00" stroke="#111" stroke-width="0.8"/>
<rect x="405.86" y="180.40" width="9.00" height="83.20" fill="#a3a3a3" stroke="#222" stroke-width="1.0"/>
<line x1="410.36" y1="176.60" x2="410.36" y2="183.10" stroke="#111" stroke-width="0.8"/>
<line x1="408.76" y1="176.60" x2="411.96" y2="176.60" stroke="#111" stroke-width="0.8"/>
<line x1="408.76" y1="183.10" x2="411.96" y2="183.10" stroke="#111" stroke-width="0.8"/>
<rect x="427.70" y="198.40" width="9.00" height="65.20" fill="#fff" stroke="#222" stroke-width="1.0"/>
<line x1="432.20" y1="196.80" x2="432.20" y2="199.80" stroke="#111" stroke-width="0.8"/>
<line x1="430.60" y1="196.80" x2="433.80" y2="196.80" stroke="#111" stroke-width="0.8"/>
<line x1="430.60" y1="199.80" x2="433.80" y2="199.80" stroke="#111" stroke-width="0.8"/>
<rect x="436.70" y="227.70" width="9.00" height="35.90" fill="#a3a3a3" stroke="#222" stroke-width="1.0"/>
<line x1="441.20" y1="220.50" x2="441.20" y2="235.50" stroke="#111" stroke-width="0.8"/>
<line x1="439.60" y1="220.50" x2="442.80" y2="220.50" stroke="#111" stroke-width="0.8"/>
<line x1="439.60" y1="235.50" x2="442.80" y2="235.50" stroke="#111" stroke-width="0.8"/>
<rect x="458.54" y="185.40" width="9.00" height="78.20" fill="#fff" stroke="#222" stroke-width="1.0"/>
<line x1="463.04" y1="184.80" x2="463.04" y2="186.00" stroke="#111" stroke-width="0.8"/>
<line x1="461.44" y1="184.80" x2="464.64" y2="184.80" stroke="#111" stroke-width="0.8"/>
<line x1="461.44" y1="186.00" x2="464.64" y2="186.00" stroke="#111" stroke-width="0.8"/>
<rect x="467.54" y="192.30" width="9.00" height="71.30" fill="#a3a3a3" stroke="#222" stroke-width="1.0"/>
<line x1="472.04" y1="190.00" x2="472.04" y2="194.80" stroke="#111" stroke-width="0.8"/>
<line x1="470.44" y1="190.00" x2="473.64" y2="190.00" stroke="#111" stroke-width="0.8"/>
<line x1="470.44" y1="194.80" x2="473.64" y2="194.80" stroke="#111" stroke-width="0.8"/>
<rect x="489.38" y="209.90" width="9.00" height="53.70" fill="#f2f2f2" stroke="#222" stroke-width="1.0"/>
<line x1="493.88" y1="206.70" x2="493.88" y2="214.50" stroke="#111" stroke-width="0.8"/>
<line x1="492.28" y1="206.70" x2="495.48" y2="206.70" stroke="#111" stroke-width="0.8"/>
<line x1="492.28" y1="214.50" x2="495.48" y2="214.50" stroke="#111" stroke-width="0.8"/>
<rect x="498.38" y="239.30" width="9.00" height="24.30" fill="#a3a3a3" stroke="#222" stroke-width="1.0"/>
<line x1="502.88" y1="233.30" x2="502.88" y2="245.90" stroke="#111" stroke-width="0.8"/>
<line x1="501.28" y1="233.30" x2="504.48" y2="233.30" stroke="#111" stroke-width="0.8"/>
<line x1="501.28" y1="245.90" x2="504.48" y2="245.90" stroke="#111" stroke-width="0.8"/>
<line x1="359.60" y1="263.60" x2="359.60" y2="265.60" stroke="#aaa" stroke-width="0.8"/>
<line x1="390.44" y1="263.60" x2="390.44" y2="265.60" stroke="#aaa" stroke-width="0.8"/>
<line x1="421.28" y1="263.60" x2="421.28" y2="265.60" stroke="#aaa" stroke-width="0.8"/>
<line x1="452.12" y1="263.60" x2="452.12" y2="265.60" stroke="#aaa" stroke-width="0.8"/>
<line x1="482.96" y1="263.60" x2="482.96" y2="265.60" stroke="#aaa" stroke-width="0.8"/>
<line x1="513.80" y1="263.60" x2="513.80" y2="265.60" stroke="#aaa" stroke-width="0.8"/>
<text x="381.70" y="277.20" font-size="10.8" font-weight="bold" text-anchor="end" fill="#000" transform="rotate(-42 381.70 277.20)">PK only</text>
<text x="409.60" y="274.50" font-size="10.8" font-weight="bold" text-anchor="end" fill="#000" transform="rotate(-42 409.60 274.50)">0.02 MIT</text>
<text x="443.00" y="275.00" font-size="10.8" font-weight="bold" text-anchor="end" fill="#000" transform="rotate(-42 443.00 275.00)">0.02M+PK</text>
<text x="473.50" y="274.90" font-size="10.8" font-weight="bold" text-anchor="end" fill="#000" transform="rotate(-42 473.50 274.90)">0.04Mit</text>
<text x="502.80" y="275.10" font-size="10.8" font-weight="bold" text-anchor="end" fill="#000" transform="rotate(-42 502.80 275.10)">0.04M+PK</text>
</svg></body></html>
